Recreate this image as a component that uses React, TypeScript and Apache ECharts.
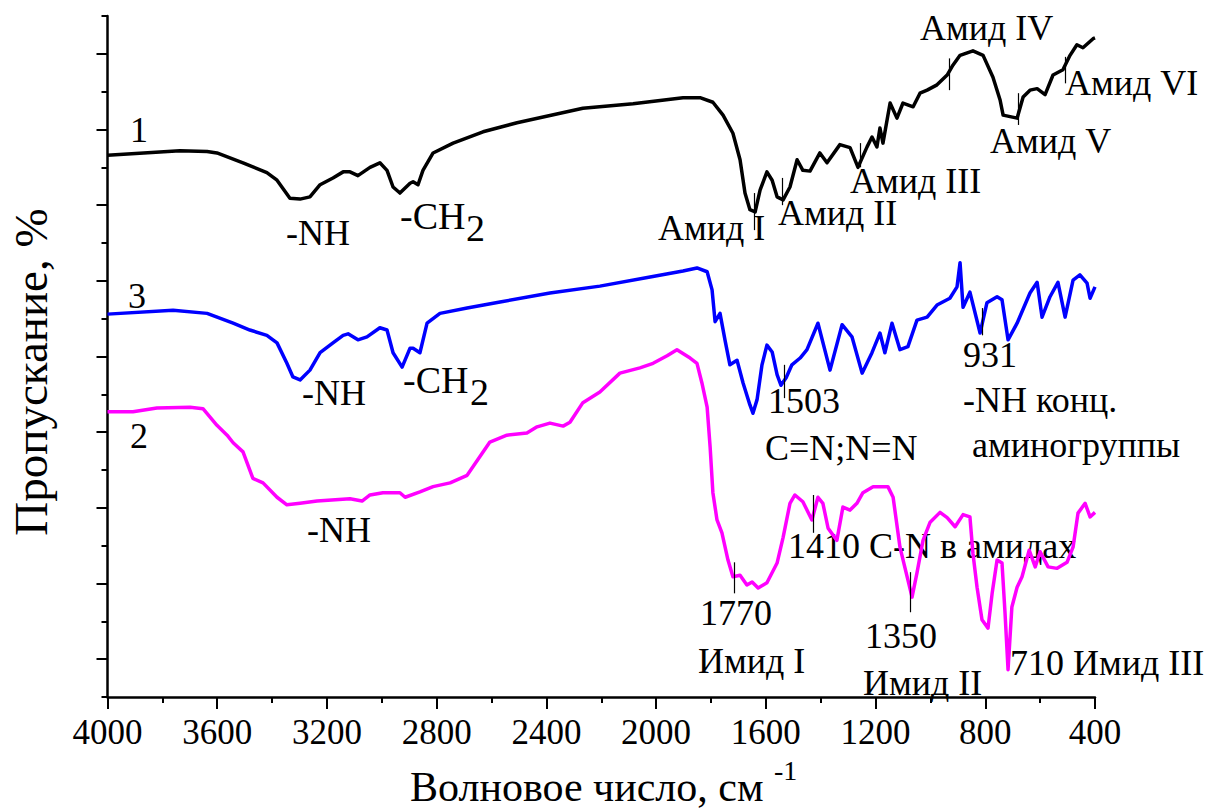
import React, { useEffect, useRef } from "react";
import * as echarts from "echarts";

// Wavenumbers (cm^-1) and transmittance (arbitrary units, offset curves)
const curve1Wn = [4000, 3736, 3637, 3601, 3506, 3419, 3382, 3335, 3298, 3262, 3225, 3178, 3141, 3116, 3087, 3043, 3007, 2981, 2959, 2934, 2897, 2886, 2868, 2850, 2813, 2740, 2631, 2507, 2267, 2084, 1902, 1840, 1793, 1756, 1720, 1694, 1676, 1658, 1639, 1621, 1596, 1577, 1559, 1537, 1512, 1486, 1465, 1439, 1403, 1377, 1330, 1293, 1264, 1231, 1213, 1195, 1184, 1173, 1147, 1122, 1100, 1063, 1038, 1012, 976, 939, 918, 892, 845, 808, 772, 746, 735, 684, 662, 637, 611, 582, 553, 517, 491, 466, 444, 407, 400];
const curve1T = [71.6, 72.2, 72.1, 71.9, 70.6, 69.3, 68.3, 65.9, 65.8, 66.1, 67.7, 68.6, 69.4, 69.4, 68.9, 70.0, 70.6, 69.6, 67.4, 66.6, 67.9, 68.1, 67.7, 69.6, 71.9, 73.2, 74.7, 75.9, 77.8, 78.4, 79.2, 79.2, 78.6, 76.9, 74.5, 71.0, 66.6, 64.4, 64.1, 67.0, 69.4, 68.3, 66.1, 65.7, 67.4, 71.0, 69.6, 69.5, 71.9, 70.6, 73.0, 72.6, 70.0, 72.7, 74.0, 72.7, 75.2, 73.2, 78.5, 76.5, 78.5, 78.0, 79.8, 80.2, 80.9, 82.2, 83.5, 84.8, 85.4, 84.8, 81.9, 78.9, 76.9, 76.5, 79.3, 80.2, 80.4, 79.6, 82.2, 82.9, 84.8, 86.2, 85.8, 87.0, 87.1];

const curve3Wn = [4000, 3761, 3637, 3542, 3481, 3419, 3382, 3346, 3324, 3298, 3262, 3225, 3178, 3141, 3123, 3087, 3054, 3007, 2981, 2959, 2926, 2897, 2886, 2861, 2835, 2788, 2689, 2569, 2387, 2205, 2022, 1902, 1851, 1814, 1796, 1785, 1767, 1749, 1731, 1705, 1683, 1658, 1647, 1632, 1614, 1596, 1577, 1559, 1545, 1526, 1505, 1475, 1450, 1410, 1366, 1322, 1286, 1249, 1213, 1184, 1166, 1140, 1111, 1082, 1049, 1012, 976, 929, 903, 892, 881, 856, 819, 794, 757, 739, 717, 684, 637, 611, 593, 564, 535, 509, 480, 455, 429, 418, 400];
const curve3T = [50.6, 51.1, 50.7, 49.4, 48.5, 47.8, 46.8, 44.1, 42.3, 41.9, 43.2, 45.5, 46.8, 47.8, 48.0, 47.2, 47.6, 48.8, 48.5, 45.5, 43.6, 46.1, 46.1, 45.5, 49.4, 50.7, 51.4, 52.2, 53.4, 54.3, 55.5, 56.3, 56.7, 56.2, 53.8, 49.6, 50.7, 47.2, 43.9, 44.5, 41.5, 38.6, 37.5, 39.3, 43.9, 46.5, 45.6, 42.6, 41.2, 42.2, 43.9, 44.8, 45.9, 49.4, 43.2, 49.2, 47.6, 42.8, 45.5, 48.1, 45.5, 49.4, 45.9, 46.3, 49.8, 50.2, 51.8, 52.7, 54.2, 57.4, 51.5, 53.5, 48.1, 52.1, 52.9, 52.5, 47.2, 49.4, 53.4, 54.8, 50.2, 52.9, 54.8, 50.2, 55.1, 55.8, 54.7, 52.7, 54.2];

const curve2Wn = [4000, 3907, 3820, 3699, 3652, 3601, 3564, 3542, 3506, 3470, 3433, 3382, 3346, 3298, 3236, 3116, 3072, 3043, 2996, 2934, 2915, 2861, 2813, 2751, 2689, 2606, 2544, 2471, 2434, 2387, 2339, 2314, 2267, 2205, 2132, 2059, 2011, 1960, 1924, 1876, 1851, 1833, 1814, 1803, 1793, 1778, 1760, 1738, 1720, 1694, 1669, 1650, 1628, 1596, 1559, 1537, 1512, 1494, 1465, 1432, 1410, 1392, 1373, 1341, 1319, 1293, 1268, 1246, 1209, 1155, 1136, 1111, 1085, 1067, 1049, 1027, 1001, 965, 939, 910, 881, 856, 845, 830, 812, 790, 775, 757, 739, 728, 717, 703, 684, 666, 640, 618, 600, 571, 538, 502, 480, 462, 436, 418, 400];
const curve2T = [37.7, 37.7, 38.2, 38.3, 38.1, 35.9, 34.6, 33.6, 32.4, 28.9, 28.3, 26.4, 25.4, 25.6, 25.9, 26.2, 25.9, 26.7, 27.0, 27.0, 26.4, 27.1, 27.8, 28.3, 29.3, 33.7, 34.6, 34.9, 35.7, 36.2, 35.8, 36.3, 38.9, 40.3, 42.8, 43.5, 44.1, 45.1, 45.9, 44.8, 44.1, 41.5, 38.3, 33.0, 27.0, 23.4, 21.7, 18.1, 15.9, 16.1, 14.8, 15.2, 14.4, 15.1, 17.7, 21.1, 25.6, 26.7, 25.8, 23.4, 26.4, 25.6, 22.3, 20.7, 25.1, 24.7, 25.6, 27.0, 27.8, 27.8, 26.4, 19.8, 15.9, 13.2, 16.4, 20.7, 23.1, 24.4, 23.7, 22.5, 24.1, 23.8, 19.0, 14.5, 10.2, 9.1, 13.7, 18.1, 17.7, 11.1, 3.6, 11.9, 14.5, 15.9, 19.4, 17.2, 19.2, 17.2, 17.0, 17.8, 19.8, 24.3, 25.6, 23.8, 24.4];

// Peak marker ticks (wavenumber, top value, bottom value)
const peakWn = [1643, 1541, 1257, 932, 681, 509, 1534, 812, 1428, 1716, 1074];
const peakTop = [66.6, 68.6, 73.2, 84.4, 79.8, 84.6, 43.9, 51.4, 26.7, 17.8, 16.5];
const peakBottom = [61.7, 65.0, 70.0, 80.2, 75.6, 81.1, 39.5, 47.8, 21.7, 13.7, 11.2];

// Axis ticks
const X_MIN = 400;
const X_MAX = 4000;
const X_STEP = 400;
const Y_MIN = 0;
const Y_MAX = 90;
const yMajorTicks = [5, 15, 25, 35, 45, 55, 65, 75, 85];
const yMinorTicks = [0, 10, 20, 30, 40, 50, 60, 70, 80, 90];

// Annotation texts
const annotationTexts = [
  "1", "3", "2",
  "-NH", "-CH", "2",
  "Амид I", "Амид II", "Амид III", "Амид IV", "Амид V", "Амид VI",
  "-NH", "-CH", "2",
  "1503", "C=N;N=N", "931", "-NH конц.", "аминогруппы",
  "-NH", "1770", "Имид I", "1410 C-N в амидах", "1350", "Имид II", "710 Имид III",
];

// layout: [left x, baseline y, font size] for each annotation text
const annotationLayout: [number, number, number][] = [
  [130, 142, 36], [128, 308, 36], [130, 448, 36],
  [286, 245, 36], [400, 229, 38], [466, 241, 38],
  [658, 240, 36], [778, 225, 36], [850, 193, 36], [920, 40, 36], [990, 153, 36], [1065, 95, 36],
  [302, 405, 36], [403, 393, 38], [470, 405, 38],
  [768, 413, 36], [765, 460, 36], [963, 367, 36], [963, 412, 36], [972, 457, 36],
  [307, 542, 36], [700, 625, 36], [698, 673, 36], [788, 558, 36], [865, 648, 36], [863, 695, 36], [1010, 675, 36],
];

const FONT = "Liberation Serif";

function zip(a: number[], b: number[]) {
  return a.map((v, i) => [v, b[i]]);
}

function textEl(text: string, x: number, baseline: number, fs: number) {
  return {
    type: "text",
    x,
    y: baseline - 0.3375 * fs,
    silent: true,
    style: {
      text,
      fontSize: fs,
      fontFamily: FONT,
      fill: "#000",
      align: "left",
      verticalAlign: "middle",
      textAlign: "left",
      textVerticalAlign: "middle",
    },
  };
}

export default function App() {
  const ref = useRef<HTMLDivElement>(null);

  useEffect(() => {
    if (!ref.current) return;
    const chart = echarts.init(ref.current, null, { renderer: "svg" });

    const graphics: any[] = annotationTexts.map((t, i) =>
      textEl(t, annotationLayout[i][0], annotationLayout[i][1], annotationLayout[i][2])
    );
    graphics.push(textEl("Волновое число, см", 410, 801, 42));
    graphics.push(textEl("-1", 774, 780, 28));
    graphics.push({
      type: "text",
      x: 31,
      y: 372,
      rotation: Math.PI / 2,
      silent: true,
      style: {
        text: "Пропускание, %",
        fontSize: 47,
        fontFamily: FONT,
        fill: "#000",
        align: "center",
        verticalAlign: "middle",
        textAlign: "center",
        textVerticalAlign: "middle",
      },
    });

    const axisLine = { show: true, lineStyle: { color: "#000", width: 2.5 } };

    chart.setOption({
      animation: false,
      backgroundColor: "#fff",
      textStyle: { fontFamily: FONT },
      grid: { left: 107.5, right: 126, top: 16, bottom: 112, containLabel: false },
      xAxis: {
        type: "value",
        inverse: true,
        min: X_MIN,
        max: X_MAX,
        interval: X_STEP,
        axisLine,
        axisTick: { show: true, length: 12, lineStyle: { color: "#000", width: 2 } },
        minorTick: { show: true, splitNumber: 2, length: 6, lineStyle: { color: "#000", width: 2 } },
        splitLine: { show: false },
        minorSplitLine: { show: false },
        axisLabel: {
          color: "#000",
          fontSize: 35,
          fontFamily: FONT,
          margin: 18,
          formatter: (v: number) => String(v),
        },
      },
      yAxis: [
        {
          type: "value",
          min: Y_MIN,
          max: Y_MAX,
          position: "left",
          axisLine,
          axisTick: { show: true, length: 11, customValues: yMajorTicks, lineStyle: { color: "#000", width: 2 } },
          axisLabel: { show: false },
          splitLine: { show: false },
        },
        {
          type: "value",
          min: Y_MIN,
          max: Y_MAX,
          position: "left",
          offset: 0,
          axisLine: { show: false },
          axisTick: { show: true, length: 6, customValues: yMinorTicks, lineStyle: { color: "#000", width: 2 } },
          axisLabel: { show: false },
          splitLine: { show: false },
        },
      ],
      series: [
        {
          type: "line",
          name: "2",
          data: zip(curve2Wn, curve2T),
          showSymbol: false,
          symbol: "none",
          lineStyle: { color: "#ff00ff", width: 3.5, join: "round" },
          silent: true,
        },
        {
          type: "line",
          name: "3",
          data: zip(curve3Wn, curve3T),
          showSymbol: false,
          symbol: "none",
          lineStyle: { color: "#0000ff", width: 3.5, join: "round" },
          silent: true,
        },
        {
          type: "line",
          name: "1",
          data: zip(curve1Wn, curve1T),
          showSymbol: false,
          symbol: "none",
          lineStyle: { color: "#000000", width: 3.5, join: "round" },
          silent: true,
          markLine: {
            silent: true,
            symbol: "none",
            label: { show: false },
            lineStyle: { color: "#000", width: 1.2, type: "solid" },
            data: peakWn.map((w, i) => [
              { coord: [w, peakTop[i]] },
              { coord: [w, peakBottom[i]] },
            ]),
          },
        },
      ],
      graphic: graphics,
    });

    return () => chart.dispose();
  }, []);

  return (
    <div
      ref={ref}
      style={{ position: "absolute", left: 0, top: 0, width: 1221, height: 809, background: "#fff" }}
    />
  );
}
